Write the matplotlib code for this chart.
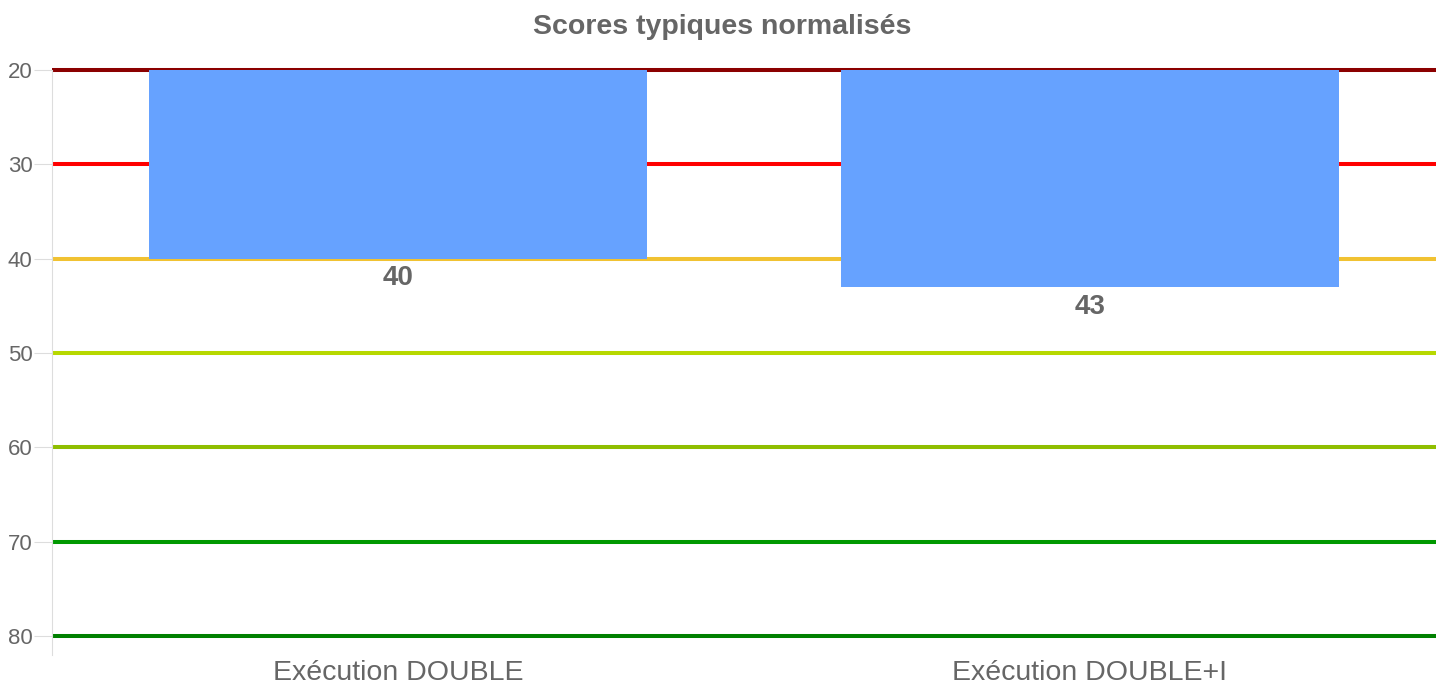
import matplotlib
matplotlib.use("Agg")
from matplotlib import pyplot as plt
import numpy as np

plt.rcParams['font.family'] = ['Liberation Sans', 'DejaVu Sans']

# data
categories = ["Exécution DOUBLE", "Exécution DOUBLE+I"]
scores = [40, 43]
base = 20
ref_levels = [20, 30, 40, 50, 60, 70, 80]
ref_colors = ["#8b0000", "#ff0000", "#f1c232", "#b7d800", "#8fbe00", "#009900", "#008000"]
yticks = [20, 30, 40, 50, 60, 70, 80]

fig = plt.figure(figsize=(14.44, 6.84), dpi=100)
ax = fig.add_axes([52 / 1444, 1 - 636 / 684, (1436 - 52) / 1444, (636 - 70) / 684])

x = np.arange(len(categories))

# colored reference lines behind the bars
for lvl, c in zip(ref_levels, ref_colors):
    ax.axhline(lvl, color=c, lw=2.9, zorder=1, clip_on=False, solid_capstyle="butt")

heights = [s - base for s in scores]
ax.bar(x, heights, bottom=base, width=0.72, color="#66a2ff", zorder=2)

for xi, s in zip(x, scores):
    ax.text(xi, s + 2.1, str(s), ha="center", va="center",
            fontsize=20, fontweight="bold", color="#666666", zorder=3)

ax.set_xlim(-0.5, len(categories) - 0.5)
ax.set_ylim(80, 20)
ax.set_yticks(yticks)
ax.set_xticks(x)
ax.set_xticklabels(categories)

ax.tick_params(axis="y", length=13, color="#dddddd", labelcolor="#666666", labelsize=16, pad=1)
ax.tick_params(axis="x", length=0, labelcolor="#666666", labelsize=20.5, pad=17)

for sp in ["top", "right", "bottom"]:
    ax.spines[sp].set_visible(False)
ax.spines["left"].set_color("#dddddd")
ax.spines["left"].set_bounds(20, 82)

fig.suptitle("Scores typiques normalisés", y=1 - 27 / 684, va="center",
             fontsize=20.5, fontweight="bold", color="#666666")

fig.savefig("out.png", dpi=100)
